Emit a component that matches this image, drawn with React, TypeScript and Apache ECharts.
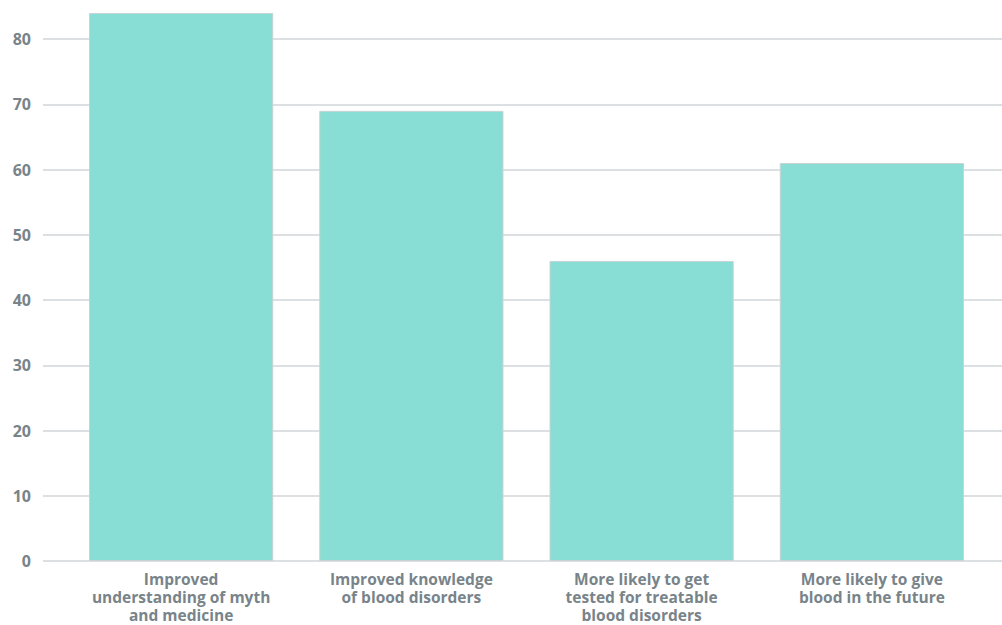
import React, { useEffect, useRef } from "react";
import * as echarts from "echarts";

// Survey outcomes (% of respondents)
const categories: string[] = [
  "Improved\nunderstanding of myth\nand medicine",
  "Improved knowledge\nof blood disorders",
  "More likely to get\ntested for treatable\nblood disorders",
  "More likely to give\nblood in the future",
];
const values: number[] = [84, 69, 46, 61];

const yMin = 0;
const yMax = 84;
const yInterval = 10;

const TEXT = "#78848a";
const GRID_LINE = "#d2d6d9";
const BAR = "#88ddd4";
const FONT = "'Open Sans', 'Noto Sans', sans-serif";

export default function App() {
  const ref = useRef<HTMLDivElement>(null);

  useEffect(() => {
    if (!ref.current) return;
    const chart = echarts.init(ref.current, undefined, { renderer: "svg" });
    chart.setOption({
      animation: false,
      backgroundColor: "#ffffff",
      grid: [
        // wide grid carrying the value axis labels and gridlines
        { left: 43, right: 0, top: 13, bottom: 64 },
        // narrower grid holding the bars
        { left: 66, right: 15, top: 13, bottom: 64 },
      ],
      xAxis: [
        {
          gridIndex: 0,
          type: "value",
          show: false,
          min: 0,
          max: 1,
        },
        {
          gridIndex: 1,
          type: "category",
          data: categories,
          axisLine: { show: false },
          axisTick: { show: false },
          axisLabel: {
            color: TEXT,
            fontFamily: FONT,
            fontWeight: "bold",
            fontSize: 15.5,
            lineHeight: 18,
            margin: 9,
            interval: 0,
          },
        },
      ],
      yAxis: [
        {
          gridIndex: 0,
          type: "value",
          min: yMin,
          max: yMax,
          interval: yInterval,
          axisLine: { show: false },
          axisTick: { show: false },
          axisLabel: {
            color: TEXT,
            fontFamily: FONT,
            fontWeight: "bold",
            fontSize: 16,
            margin: 12,
            showMaxLabel: false,
          },
          splitLine: {
            show: true,
            showMaxLine: false,
            lineStyle: { color: GRID_LINE, width: 1.5 },
          },
        },
        {
          gridIndex: 1,
          type: "value",
          min: yMin,
          max: yMax,
          interval: yInterval,
          show: false,
          splitLine: { show: false },
        },
      ],
      series: [
        {
          type: "bar",
          xAxisIndex: 1,
          yAxisIndex: 1,
          data: values,
          barCategoryGap: "20%",
          itemStyle: {
            color: BAR,
            borderColor: "#c9d3d3",
            borderWidth: 1,
          },
        },
      ],
    });
    return () => chart.dispose();
  }, []);

  return (
    <div
      ref={ref}
      style={{ position: "fixed", left: 0, top: 0, width: 1002, height: 625 }}
    />
  );
}
